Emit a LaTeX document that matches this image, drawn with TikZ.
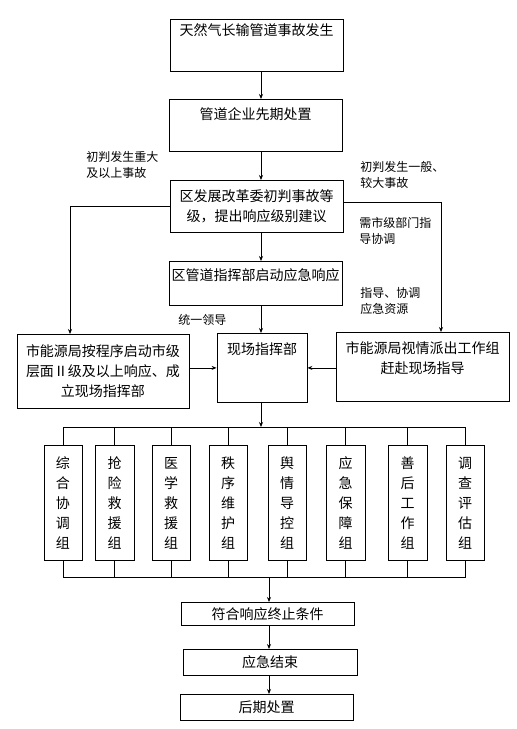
\documentclass[tikz,border=0pt]{standalone}
\usepackage{fontspec}
\setmainfont{Noto Sans CJK SC}
\usetikzlibrary{arrows.meta}
\begin{document}
\begin{tikzpicture}[x=1pt,y=-1pt,line width=0.8pt,>={Stealth[length=5pt,width=4pt]},
        box/.style={draw,anchor=north,inner sep=0pt,align=center,font=\fontsize{14pt}{20pt}\selectfont},
        groupbox/.style={box,minimum width=38pt,minimum height=115pt},
        note/.style={anchor=north west,inner sep=0pt,align=left,font=\fontsize{12pt}{16pt}\selectfont}]
        \useasboundingbox (0,0) rectangle (517,729);
        \coordinate (trunk) at (261,0);
        \node[box,minimum width=173pt,text height=16.3pt,text depth=35.7pt] (occur) at (256.5,19) {天然气长输管道事故发生};
        \node[box,minimum width=173pt,text height=20.3pt,text depth=31.7pt] (early) at (255.5,99) {管道企业先期处置};
        \node[box,minimum width=173pt,minimum height=52pt] (judge) at (256.5,180) {区发展改革委初判事故等\\级，提出响应级别建议};
        \node[box,minimum width=173pt,text height=19.3pt,text depth=24.7pt] (district) at (255.5,261) {区管道指挥部启动应急响应};
        \node[box,minimum width=172pt,minimum height=74pt] (city) at (103,334) {市能源局按程序启动市级\\层面Ⅱ级及以上响应、成\\立现场指挥部};
        \node[box,minimum width=90pt,text height=21.3pt,text depth=47.7pt] (cmd) at (262,333) {现场指挥部};
        \node[box,minimum width=173pt,minimum height=69pt] (team) at (422.5,332) {市能源局视情派出工作组\\赶赴现场指导\\[-2pt]~};
        \node[note] (major) at (86,151) {初判发生重大\\及以上事故};
        \node[note] (minor) at (360,161) {初判发生一般、\\较大事故};
        \node[note] (need) at (359,217) {需市级部门指\\导协调};
        \node[note] (guide) at (360,287) {指导、协调\\应急资源};
        \node[note] (lead) at (178,314) {统一领导};
        \node[groupbox] (zonghe) at (63,445) {综\\合\\协\\调\\组};
        \node[groupbox,minimum width=39pt] (qiangxian) at (114.5,445) {抢\\险\\救\\援\\组};
        \node[groupbox] (yixue) at (171,445) {医\\学\\救\\援\\组};
        \node[groupbox] (zhixu) at (228,445) {秩\\序\\维\\护\\组};
        \node[groupbox] (yuqing) at (287,445) {舆\\情\\导\\控\\组};
        \node[groupbox,minimum width=39pt] (baozhang) at (345.5,445) {应\\急\\保\\障\\组};
        \node[groupbox,minimum width=39pt] (shanhou) at (407.5,445) {善\\后\\工\\作\\组};
        \node[groupbox] (diaocha) at (465,445) {调\\查\\评\\估\\组};
        \node[box,minimum width=173pt,minimum height=23pt] (cond) at (267.5,602) {符合响应终止条件};
        \node[box,minimum width=174pt,minimum height=26pt] (over) at (270,649) {应急结束};
        \node[box,minimum width=173pt,minimum height=26pt] (after) at (266.5,694) {后期处置};
        \draw [->] (occur.south -| trunk) -- (early.north -| trunk);
        \draw [->] (early.south -| trunk) -- (judge.north -| trunk);
        \draw [->] (judge.south -| trunk) -- (district.north -| trunk);
        \draw [->] (district.south -| trunk) -- (cmd.north -| trunk);
        \draw [->] (judge.west) -| ([xshift=-33pt]city.north);
        \draw [->] ([yshift=4pt]judge.east) -| ([xshift=18.5pt]team.north);
        \draw [->] (city.east |- cmd) -- (cmd.west);
        \draw [->] (team.west |- cmd) -- (cmd.east);
        \coordinate (topbus) at (261,427);
        \draw [->] (cmd.south -| trunk) -- (topbus);
        \draw (zonghe.north) -- (zonghe.north |- topbus) -- (diaocha.north |- topbus) -- (diaocha.north);
        \draw (qiangxian.north) -- (qiangxian.north |- topbus) (yixue.north) -- (yixue.north |- topbus)
              (zhixu.north) -- (zhixu.north |- topbus) (yuqing.north) -- (yuqing.north |- topbus)
              (baozhang.north) -- (baozhang.north |- topbus) (shanhou.north) -- (shanhou.north |- topbus);
        \coordinate (lowbus) at (269,577);
        \draw (zonghe.south) -- (zonghe.south |- lowbus) -- (diaocha.south |- lowbus) -- (diaocha.south);
        \draw (qiangxian.south) -- (qiangxian.south |- lowbus) (yixue.south) -- (yixue.south |- lowbus)
              (zhixu.south) -- (zhixu.south |- lowbus) (yuqing.south) -- (yuqing.south |- lowbus)
              (baozhang.south) -- (baozhang.south |- lowbus) (shanhou.south) -- (shanhou.south |- lowbus);
        \draw [->] (lowbus) -- (cond.north -| lowbus);
        \draw [->] (cond.south -| lowbus) -- (over.north -| lowbus);
        \draw [->] (over.south -| lowbus) -- (after.north -| lowbus);
\end{tikzpicture}
\end{document}
